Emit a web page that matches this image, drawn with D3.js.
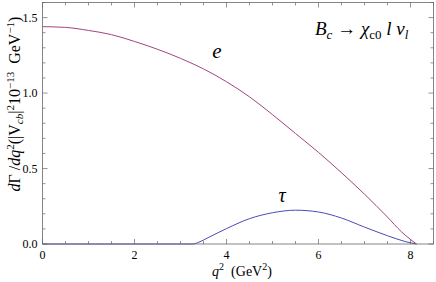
<!DOCTYPE html>
<html lang="en">
<head>
    <meta charset="UTF-8">
    <title>Bc to chi_c0 l nu</title>
    <style>
        body, html {
          margin: 0;
          width: 100%;
          height: 100%;
          background: #fff;
        }
        svg { display: block; }
        text { fill: #000; }
        .tick-label { font-size: 12px; }
    </style>
</head>
<body>
    <svg width="436" height="282" font-family="'Liberation Serif', 'Times New Roman', serif"></svg>

    <script src="https://d3js.org/d3.v7.min.js"></script>
    <script>
        // q^2 values (GeV^2) and dGamma/dq^2
        const qE = [0, 0.5, 1, 1.5, 2, 2.5, 3, 3.5, 4, 4.5, 5, 5.5, 6, 6.5, 7, 7.5, 7.8, 8.0, 8.13];
        const rateE = [1.44, 1.435, 1.415, 1.387, 1.342, 1.29, 1.23, 1.16, 1.075, 0.975, 0.857, 0.732, 0.607, 0.472, 0.33, 0.178, 0.082, 0.03, 0];

        const qTau = [0, 3.26, 3.4, 3.6, 4.0, 4.5, 5.0, 5.5, 6.0, 6.5, 7.0, 7.5, 7.9, 8.13];
        const rateTau = [0, 0, 0.012, 0.042, 0.102, 0.168, 0.207, 0.224, 0.212, 0.172, 0.112, 0.055, 0.015, 0];

        const xTicks = [0, 2, 4, 6, 8];
        const yTicks = [0.0, 0.5, 1.0, 1.5];

        const svg = d3.select("svg");
        const pLeft = 42.5, pRight = 433.5, pTop = 2.5, pBottom = 244;

        const x = d3.scaleLinear().domain([0, 8.5]).range([pLeft, pRight]);
        const y = d3.scaleLinear().domain([0, 1.6]).range([pBottom, pTop]);

        const frameColor = "#666";

        // minor ticks
        const xMinor = d3.range(0, 8.5001, 0.5);
        const yMinor = d3.range(0, 1.6001, 0.1);

        const ticks = svg.append("g").attr("stroke", frameColor).attr("stroke-width", 0.7);
        xMinor.forEach(v => {
            const major = Math.abs(v - Math.round(v / 2) * 2) < 1e-6;
            const len = major ? 5 : 3;
            ticks.append("line").attr("x1", x(v)).attr("x2", x(v)).attr("y1", pBottom).attr("y2", pBottom - len);
            ticks.append("line").attr("x1", x(v)).attr("x2", x(v)).attr("y1", pTop).attr("y2", pTop + len);
        });
        yMinor.forEach(v => {
            const major = Math.abs(v * 2 - Math.round(v * 2)) < 1e-6;
            const len = major ? 5 : 3;
            ticks.append("line").attr("y1", y(v)).attr("y2", y(v)).attr("x1", pLeft).attr("x2", pLeft + len);
            ticks.append("line").attr("y1", y(v)).attr("y2", y(v)).attr("x1", pRight).attr("x2", pRight - len);
        });

        // tick labels
        svg.append("g").selectAll("text").data(xTicks).enter().append("text")
            .attr("class", "tick-label")
            .attr("x", d => x(d)).attr("y", 259)
            .attr("text-anchor", "middle")
            .text(d => d);

        svg.append("g").selectAll("text").data(yTicks).enter().append("text")
            .attr("class", "tick-label")
            .attr("x", 37.5).attr("y", d => y(d) + 4)
            .attr("text-anchor", "end")
            .text(d => d.toFixed(1));

        // curves
        const line = d3.line().x(d => x(d[0])).y(d => y(d[1])).curve(d3.curveMonotoneX);

        svg.append("path")
            .datum(d3.zip(qTau, rateTau))
            .attr("fill", "none")
            .attr("stroke", "#4b4bb5")
            .attr("stroke-width", 1)
            .attr("d", line);

        svg.append("path")
            .datum(d3.zip(qE, rateE))
            .attr("fill", "none")
            .attr("stroke", "#a2457f")
            .attr("stroke-width", 1)
            .attr("d", line);

        // frame
        svg.append("rect")
            .attr("x", pLeft).attr("y", pTop)
            .attr("width", pRight - pLeft).attr("height", pBottom - pTop)
            .attr("fill", "none").attr("stroke", frameColor).attr("stroke-width", 0.8);

        // curve labels
        svg.append("text").attr("x", 217).attr("y", 58)
            .attr("text-anchor", "middle").attr("font-style", "italic").attr("font-size", 21)
            .text("e");
        svg.append("text").attr("x", 282).attr("y", 202)
            .attr("text-anchor", "middle").attr("font-style", "italic").attr("font-size", 20)
            .text("τ");

        // process label
        const title = svg.append("text").attr("x", 315).attr("y", 35).attr("font-size", 19);
        title.append("tspan").attr("font-style", "italic").text("B");
        title.append("tspan").attr("font-style", "italic").attr("font-size", 13).attr("dy", 4).text("c");
        title.append("tspan").attr("dy", -4).text(" → ");
        title.append("tspan").attr("font-style", "italic").text("χ");
        title.append("tspan").attr("font-size", 13).attr("dy", 4).text("c0");
        title.append("tspan").attr("dy", -4).attr("font-style", "italic").text(" l ν");
        title.append("tspan").attr("font-style", "italic").attr("font-size", 13).attr("dy", 4).text("l");

        // x axis title
        const xt = svg.append("text").attr("x", 242).attr("y", 276).attr("text-anchor", "middle").attr("font-size", 14);
        xt.append("tspan").attr("font-style", "italic").text("q");
        xt.append("tspan").attr("font-size", 10).attr("dy", -6).text("2");
        xt.append("tspan").attr("dy", 6).text("\u00a0\u00a0(GeV");
        xt.append("tspan").attr("font-size", 10).attr("dy", -6).text("2");
        xt.append("tspan").attr("dy", 6).text(")");

        // y axis title
        const yt = svg.append("text")
            .attr("transform", "translate(20,104) rotate(-90)")
            .attr("text-anchor", "middle").attr("font-size", 16);
        yt.append("tspan").attr("font-style", "italic").text("d");
        yt.append("tspan").text("Γ\u00a0/");
        yt.append("tspan").attr("font-style", "italic").text("dq");
        yt.append("tspan").attr("font-size", 11).attr("dy", -6).text("2");
        yt.append("tspan").attr("dy", 6).text("(|V");
        yt.append("tspan").attr("font-style", "italic").attr("font-size", 11).attr("dy", 3).text("cb");
        yt.append("tspan").attr("dy", -3).text("|");
        yt.append("tspan").attr("font-size", 11).attr("dy", -6).text("2");
        yt.append("tspan").attr("dy", 6).text("10");
        yt.append("tspan").attr("font-size", 11).attr("dy", -6).text("−13");
        yt.append("tspan").attr("dy", 6).text("\u00a0\u00a0GeV");
        yt.append("tspan").attr("font-size", 11).attr("dy", -6).text("−1");
        yt.append("tspan").attr("dy", 6).text(")");
    </script>
</body>
</html>
